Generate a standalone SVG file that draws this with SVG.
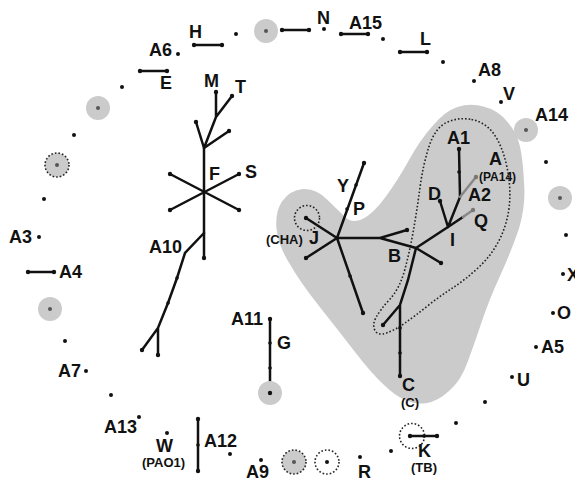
<svg xmlns="http://www.w3.org/2000/svg" width="575" height="481" viewBox="0 0 575 481">
<style>
text{font-family:"Liberation Sans",Arial,sans-serif;font-weight:bold;fill:#111}
.l{font-size:18px}
.s{font-size:13px}
.e{stroke:#111;stroke-width:2.5;fill:none;stroke-linecap:round}
.g{stroke:#888;stroke-width:2.5;fill:none;stroke-linecap:round}
.d{fill:#111}
.c{fill:#cbcbcb}
.dt{fill:none;stroke:#222;stroke-width:1.6;stroke-dasharray:1.6 2}
</style>
<rect width="575" height="481" fill="#fff"/>
<g id="clusters">
<path fill="#cbcbcb" d="M 524,182.5 Q 526,205 519,228.5 Q 511,252 500,276 Q 489,300 482,321 Q 475,342 468,361 Q 461,381 449,391 Q 438,401 427,403 Q 416,405 405,400 Q 394,395 383,384 Q 372,374 355,352 Q 338,330 319,306 Q 300,282 289.5,263.5 Q 278,245 276.5,228.5 Q 275,212 282,201.5 Q 290,190 303,189 Q 316,188 327,199.5 Q 338,210 345,217 Q 352,224 362.5,219 Q 373,214 385.5,197 Q 398,180 409,160 Q 420,140 432.5,126 Q 445,111 457.5,107 Q 470,103 483.5,106.5 Q 498,110 507.5,122 Q 517,133 520,146.5 Q 523,160 524,182.5 Z"/>
<path class="dt" d="M 471.5,119.5 Q 485,122 493.5,133.5 Q 502,145 506.5,165 Q 511,185 509.5,203.5 Q 508,222 500,238.5 Q 492,255 478.5,267.5 Q 465,280 452.5,288 Q 440,296 427.5,306 Q 415,316 405,323 Q 395,330 386.5,333 Q 378,336 375,330.5 Q 372,325 376,317.5 Q 380,310 390,299 Q 400,288 405,269 Q 410,250 413.5,230 Q 417,210 420,187.5 Q 423,165 429,146.5 Q 435,128 446.5,122.5 Q 458,117 471.5,119.5 Z"/>
</g>
<g id="connectors">
<path class="e" d="M204,148 L204,258"/>
<path class="e" d="M204,148 L196,122 M204,148 L229,131 M204,148 L216,117 L216,92 M216,117 L232,96"/>
<path class="e" d="M170,174 L239,210 M239,174 L170,210"/>
<path class="e" d="M204,233 L185,253 L177,278 L168,303 L158,328 L142,350 M158,328 L158,355"/>
<path class="e" d="M337,238 L364,163 M337,238 L306,218 M337,238 L306,258 M337,238 L380,238 L407,230 M380,238 L416,248 M337,238 L363,313"/>
<path class="e" d="M416,248 L448,227 M416,248 L441,263 M416,248 L408,280 L400,305 L383,325 M400,305 L400,376"/>
<path class="e" d="M448,227 L440,201 M448,227 L460,197 L459,149 M448,227 L463,217"/>
<path class="g" d="M463,217 L473,210 M460,197 L476,177"/>
<path class="e" d="M270,319 L270,393"/>
<path class="e" d="M198,419 L198,471"/>
</g>
<g id="tree-nodes">
<circle class="d" cx="196" cy="122" r="2.2"/><circle class="d" cx="229" cy="131" r="2.2"/>
<circle class="d" cx="216" cy="92" r="2.2"/><circle class="d" cx="232" cy="96" r="2.2"/>
<circle class="d" cx="170" cy="174" r="2.2"/><circle class="d" cx="239" cy="174" r="2.2"/>
<circle class="d" cx="170" cy="210" r="2.2"/><circle class="d" cx="239" cy="210" r="2.2"/>
<circle class="d" cx="204" cy="258" r="2.2"/><circle class="d" cx="142" cy="350" r="2.2"/>
<circle class="d" cx="158" cy="355" r="2.2"/><circle class="d" cx="177" cy="278" r="1.8"/>
<circle class="d" cx="168" cy="303" r="1.8"/>
<circle class="d" cx="364" cy="163" r="2.2"/><circle class="d" cx="356" cy="185" r="1.8"/>
<circle class="d" cx="347" cy="209" r="1.8"/><circle class="d" cx="306" cy="218" r="2.2"/>
<circle class="d" cx="306" cy="258" r="2.2"/><circle class="d" cx="407" cy="230" r="2.2"/>
<circle class="d" cx="363" cy="313" r="2.2"/><circle class="d" cx="350" cy="276" r="1.8"/>
<circle class="d" cx="441" cy="263" r="2.2"/><circle class="d" cx="383" cy="325" r="2.2"/>
<circle class="d" cx="400" cy="328" r="1.8"/><circle class="d" cx="400" cy="353" r="1.8"/>
<circle class="d" cx="400" cy="376" r="2.2"/><circle class="d" cx="440" cy="201" r="2.2"/>
<circle class="d" cx="459" cy="149" r="2.2"/><circle class="d" cx="459" cy="172" r="1.8"/>
<circle cx="473" cy="210" r="2.2" fill="#777"/><circle cx="476" cy="177" r="2.2" fill="#777"/>
</g>
<g id="F"><text class="l" x="209" y="180">F</text></g>
<g id="M"><text class="l" x="204" y="87">M</text></g>
<g id="T"><text class="l" x="235" y="93">T</text></g>
<g id="S"><text class="l" x="245" y="178">S</text></g>
<g id="A10"><text class="l" x="149" y="253">A10</text></g>
<g id="Y"><text class="l" x="337" y="192">Y</text></g>
<g id="P"><text class="l" x="353" y="215">P</text></g>
<g id="J"><circle class="dt" cx="307" cy="218" r="12.5"/><text class="l" x="309" y="244">J</text><text class="s" x="266" y="244">(CHA)</text></g>
<g id="B"><text class="l" x="388" y="262">B</text></g>
<g id="I"><text class="l" x="450" y="246">I</text></g>
<g id="D"><text class="l" x="428" y="200">D</text></g>
<g id="A1"><text class="l" x="447" y="144">A1</text></g>
<g id="A"><text class="l" x="489" y="165">A</text><text style="font-size:12px" x="479" y="181">(PA14)</text></g>
<g id="A2"><text class="l" x="468" y="201">A2</text></g>
<g id="Q"><text class="l" x="474" y="227">Q</text></g>
<g id="C"><text class="l" x="402" y="391">C</text><text class="s" x="401" y="407">(C)</text></g>
<g id="G"><circle class="c" cx="270" cy="393" r="12"/><circle class="d" cx="270" cy="319" r="2.2"/><circle class="d" cx="270" cy="343" r="1.8"/><circle class="d" cx="270" cy="368" r="1.8"/><circle class="d" cx="270" cy="393" r="2.2"/><text class="l" x="277" y="349">G</text><text class="l" x="231" y="325">A11</text></g>
<g id="A12"><circle class="d" cx="198" cy="419" r="2.2"/><circle class="d" cx="198" cy="445" r="1.8"/><circle class="d" cx="198" cy="471" r="2.2"/><text class="l" x="204" y="447">A12</text></g>
<g id="ring">
<g id="H"><path class="e" d="M194,45 L222,45"/><circle class="d" cx="194" cy="45" r="2.2"/><circle class="d" cx="222" cy="45" r="2.2"/><text class="l" x="189" y="38">H</text></g>
<g id="n1"><circle class="d" cx="236" cy="34" r="2"/></g>
<g id="n2"><circle class="c" cx="266" cy="31" r="12"/><circle cx="266" cy="31" r="2" fill="#555"/></g>
<g id="n3"><path class="e" d="M282,30 L309,30"/><circle class="d" cx="282" cy="30" r="2.2"/><circle class="d" cx="309" cy="30" r="2.2"/></g>
<g id="N"><circle class="d" cx="324" cy="29" r="2"/><text class="l" x="317" y="24">N</text></g>
<g id="A15"><path class="e" d="M341,34 L368,34"/><circle class="d" cx="341" cy="34" r="2.2"/><circle class="d" cx="368" cy="34" r="2.2"/><text class="l" x="349" y="29">A15</text></g>
<g id="n4"><circle class="d" cx="383" cy="39" r="2"/></g>
<g id="L"><path class="e" d="M400,52 L427,52"/><circle class="d" cx="400" cy="52" r="2.2"/><circle class="d" cx="427" cy="52" r="2.2"/><text class="l" x="420" y="45">L</text></g>
<g id="n5"><circle class="d" cx="443" cy="62" r="2"/></g>
<g id="A8"><circle class="d" cx="474" cy="81" r="2"/><text class="l" x="478" y="76">A8</text></g>
<g id="V"><circle class="d" cx="501" cy="102" r="2"/><text class="l" x="503" y="100">V</text></g>
<g id="A14"><circle class="c" cx="526" cy="130" r="12"/><circle cx="526" cy="130" r="2" fill="#555"/><text class="l" x="535" y="121">A14</text></g>
<g id="n6"><circle class="d" cx="546" cy="162" r="2"/></g>
<g id="n7"><circle class="c" cx="560" cy="198" r="12"/><circle cx="560" cy="198" r="2" fill="#555"/></g>
<g id="n8"><circle class="d" cx="566" cy="235" r="2"/></g>
<g id="X"><circle class="d" cx="563" cy="274" r="2"/><text class="l" x="567" y="281">X</text></g>
<g id="O"><circle class="d" cx="553" cy="313" r="2"/><text class="l" x="557" y="319">O</text></g>
<g id="A5"><circle class="d" cx="536" cy="347" r="2"/><text class="l" x="541" y="353">A5</text></g>
<g id="U"><circle class="d" cx="512" cy="377" r="2"/><text class="l" x="517" y="386">U</text></g>
<g id="n9"><circle class="d" cx="485" cy="402" r="2"/></g>
<g id="n10"><circle class="d" cx="456" cy="423" r="2"/></g>
<g id="K"><circle class="dt" cx="412" cy="436" r="12.5"/><path class="e" d="M410,436 L437,436"/><circle class="d" cx="410" cy="436" r="2.2"/><circle class="d" cx="424" cy="436" r="1.8"/><circle class="d" cx="437" cy="436" r="2.2"/><text class="l" x="418" y="457">K</text><text class="s" x="411" y="472">(TB)</text></g>
<g id="n11"><circle class="d" cx="391" cy="451" r="2"/></g>
<g id="R"><circle class="d" cx="360" cy="457" r="2"/><text class="l" x="358" y="478">R</text></g>
<g id="n12"><circle class="dt" cx="327" cy="462" r="12"/><circle class="d" cx="327" cy="462" r="2"/></g>
<g id="n13"><circle class="c" cx="294" cy="462" r="12"/><circle class="dt" cx="294" cy="462" r="12"/><circle cx="294" cy="462" r="2" fill="#555"/></g>
<g id="A9"><circle class="d" cx="261" cy="460" r="2"/><text class="l" x="246" y="478">A9</text></g>
<g id="n14"><circle class="d" cx="230" cy="454" r="2"/></g>
<g id="W"><circle class="d" cx="167" cy="433" r="2"/><text class="l" x="156" y="452">W</text><text class="s" x="142" y="467">(PAO1)</text></g>
<g id="A13"><circle class="d" cx="139" cy="417" r="2"/><text class="l" x="104" y="433">A13</text></g>
<g id="n15"><circle class="d" cx="111" cy="395" r="2"/></g>
<g id="A7"><circle class="d" cx="86" cy="371" r="2"/><text class="l" x="58" y="377">A7</text></g>
<g id="n16"><circle class="d" cx="65" cy="341" r="2"/></g>
<g id="n17"><circle class="c" cx="50" cy="309" r="12"/><circle cx="50" cy="309" r="2" fill="#555"/></g>
<g id="A4"><path class="e" d="M28,272 L54,272"/><circle class="d" cx="28" cy="272" r="2.2"/><circle class="d" cx="54" cy="272" r="2.2"/><text class="l" x="59" y="278">A4</text></g>
<g id="A3"><circle class="d" cx="39" cy="237" r="2"/><text class="l" x="9" y="243">A3</text></g>
<g id="n18"><circle class="d" cx="44" cy="199" r="2"/></g>
<g id="n19"><circle class="c" cx="57" cy="165" r="12"/><circle class="dt" cx="57" cy="165" r="12"/><circle cx="57" cy="165" r="2" fill="#555"/></g>
<g id="n20"><circle class="d" cx="74" cy="135" r="2"/></g>
<g id="n21"><circle class="c" cx="98" cy="108" r="12"/><circle cx="98" cy="108" r="2" fill="#555"/></g>
<g id="n22"><circle class="d" cx="122" cy="87" r="2"/></g>
<g id="E"><path class="e" d="M140,71 L167,71"/><circle class="d" cx="140" cy="71" r="2.2"/><circle class="d" cx="167" cy="71" r="2.2"/><text class="l" x="160" y="89">E</text></g>
<g id="A6"><circle class="d" cx="178" cy="54" r="2"/><text class="l" x="149" y="56">A6</text></g>
</g>
</svg>
